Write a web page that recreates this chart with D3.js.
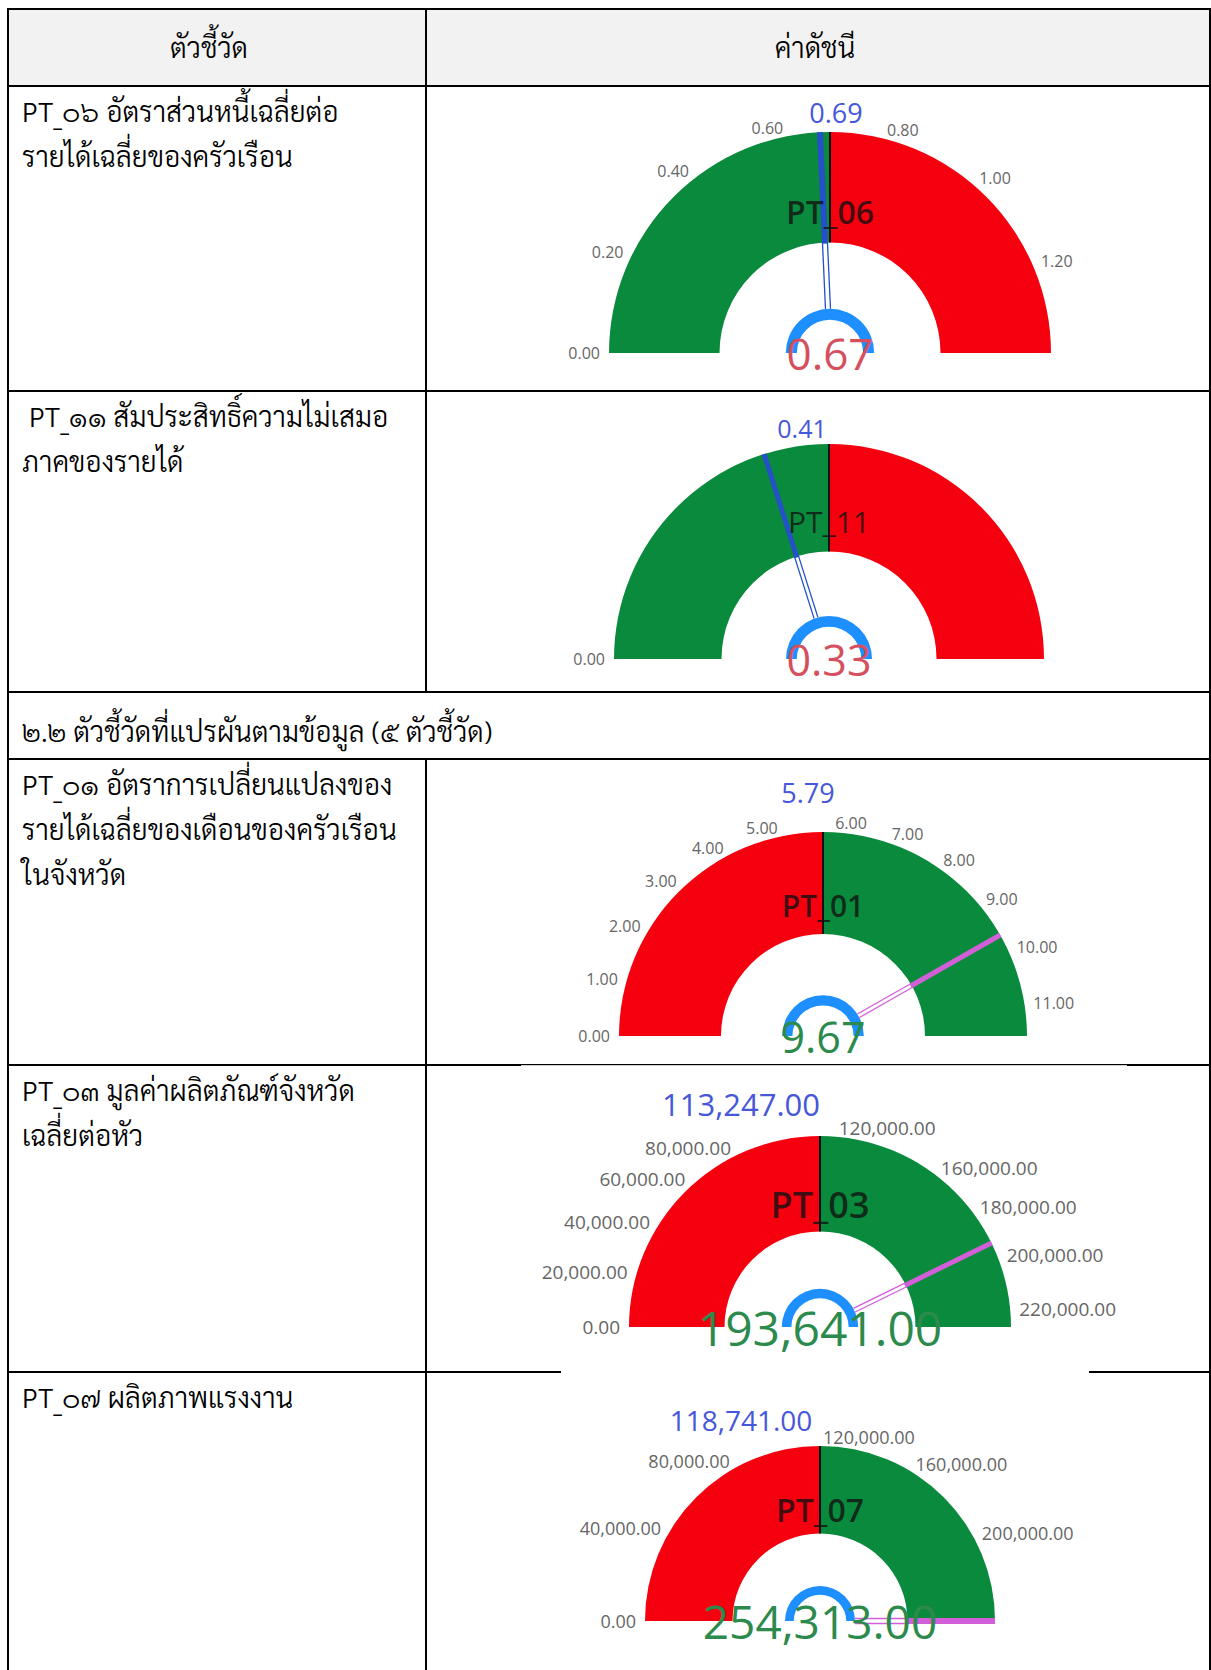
<!DOCTYPE html>
<html><head><meta charset="utf-8">
<script src="https://cdn.jsdelivr.net/npm/d3@7"></script>
<style>
html,body{margin:0;padding:0;background:#fff;}
svg{display:block;}
</style></head><body>
<svg id="chart" width="1211" height="1670"></svg>
<script>
// ---------------- data ----------------
const headerLabels = ["ตัวชี้วัด", "ค่าดัชนี"];
const sectionTitle = "๒.๒ ตัวชี้วัดที่แปรผันตามข้อมูล (๕ ตัวชี้วัด)";
const rowTexts = [
  ["PT_๐๖ อัตราส่วนหนี้เฉลี่ยต่อ", "รายได้เฉลี่ยของครัวเรือน"],
  ["\u00A0PT_๑๑ สัมประสิทธิ์ความไม่เสมอ", "ภาคของรายได้"],
  ["PT_๐๑ อัตราการเปลี่ยนแปลงของ", "รายได้เฉลี่ยของเดือนของครัวเรือน", "ในจังหวัด"],
  ["PT_๐๓ มูลค่าผลิตภัณฑ์จังหวัด", "เฉลี่ยต่อหัว"],
  ["PT_๐๗ ผลิตภาพแรงงาน"]
];
const gaugeIds = ["PT_06", "PT_11", "PT_01", "PT_03", "PT_07"];
const gaugeValues = [0.67, 0.33, 9.67, 193641, 254313];
const gaugeTargets = [0.69, 0.41, 5.79, 113247, 118741];
const lowerIsBetter = [true, true, false, false, false];
const tickLabelValues = [
  [0, 0.2, 0.4, 0.6, 0.8, 1.0, 1.2],
  [0],
  [0, 1, 2, 3, 4, 5, 6, 7, 8, 9, 10, 11],
  [0, 20000, 40000, 60000, 80000, 120000, 160000, 180000, 200000, 220000],
  [0, 40000, 80000, 120000, 160000, 200000]
];

// ---------------- layout ----------------
const W = 1211, H = 1670;
const colX = [8, 426, 1210];
const headerTop = 9, headerBottom = 86;
const rowTops = [86, 391, 759, 1065, 1372];
const rowBottoms = [391, 692, 1065, 1372, 1672];
const sectionTop = 692, sectionBottom = 759;
const gaugeLayout = [
  {cx: 830, cy: 353, R: 221, tick: 16, target: 27, value: 44, name: 32, nameW: 600, tdx: 6,   tdy: -20, nw: 5},
  {cx: 829, cy: 659, R: 215, tick: 16, target: 25, value: 43, name: 30, nameW: 400, tdx: -27, tdy: -16, nw: 4},
  {cx: 823, cy: 1036, R: 204, tick: 16, target: 27, value: 43, name: 30, nameW: 600, tdx: -15, tdy: -40, nw: 4},
  {cx: 820, cy: 1327, R: 191, tick: 19, target: 31, value: 48, name: 36, nameW: 600, tdx: -79, tdy: -32, nw: 4},
  {cx: 820, cy: 1621, R: 175, tick: 18, target: 28, value: 46, name: 32, nameW: 600, tdx: -79, tdy: -26, nw: 5}
];
const GREEN = "#0a8a3c", RED = "#f5000f", DIAL = "#1e8fff";
const TARGET_C = "#4657d9", TICK_C = "#666666";
const thaiFont = "'TH Sarabun New','Sarabun','Noto Sans Thai Looped','Noto Sans Thai','Noto Sans Thai UI','Loma','Garuda','Norasi','DejaVu Sans',sans-serif";
const gaugeFont = "'Segoe UI','Open Sans','Noto Sans',sans-serif";
const TXT = 28;
const fmt = d3.format(",.2f");

const svg = d3.select("#chart");

// header background
svg.append("rect").attr("x", colX[0]).attr("y", headerTop)
  .attr("width", colX[2] - colX[0]).attr("height", headerBottom - headerTop).attr("fill", "#f2f2f2");

// grid lines
const grid = svg.append("g").attr("stroke", "#000").attr("stroke-width", 2);
[headerTop, headerBottom, ...rowBottoms.slice(0, 4), sectionBottom].forEach(y => {
  grid.append("line").attr("x1", colX[0]).attr("x2", colX[2]).attr("y1", y).attr("y2", y);
});
grid.append("line").attr("x1", colX[0]).attr("x2", colX[0]).attr("y1", headerTop - 1).attr("y2", H);
grid.append("line").attr("x1", colX[2]).attr("x2", colX[2]).attr("y1", headerTop - 1).attr("y2", H);
grid.append("line").attr("x1", colX[1]).attr("x2", colX[1]).attr("y1", headerTop).attr("y2", sectionTop);
grid.append("line").attr("x1", colX[1]).attr("x2", colX[1]).attr("y1", sectionBottom).attr("y2", H);

// pasted gauge images cover parts of the borders
svg.append("rect").attr("x", 521).attr("y", 1065.2).attr("width", 606).attr("height", 300).attr("fill", "#fff");
svg.append("rect").attr("x", 561).attr("y", 1360).attr("width", 528).attr("height", 310).attr("fill", "#fff");

// header text
svg.append("g").selectAll("text").data(headerLabels).join("text")
  .attr("x", (d, i) => (colX[i] + colX[i + 1]) / 2 - (i === 0 ? 8 : 3))
  .attr("y", 58).attr("text-anchor", "middle")
  .attr("font-family", thaiFont).attr("font-size", TXT).attr("font-weight", 300)
  .attr("fill", "#000").text(d => d);

// section title
svg.append("text").attr("x", 22).attr("y", 742)
  .attr("font-family", thaiFont).attr("font-size", TXT).attr("font-weight", 300)
  .attr("fill", "#000").text(sectionTitle);

// row texts
rowTexts.forEach((lines, i) => {
  svg.append("g").selectAll("text").data(lines).join("text")
    .attr("x", 22).attr("y", (d, j) => rowTops[i] + 36 + j * 45)
    .attr("font-family", thaiFont).attr("font-size", TXT).attr("font-weight", 300)
    .attr("fill", "#000").attr("xml:space", "preserve").text(d => d);
});

// gauges
gaugeIds.forEach((id, i) => {
  const L = gaugeLayout[i];
  const t = gaugeTargets[i], v = gaugeValues[i];
  const sc = d3.scaleLinear().domain([0, 2 * t]).range([-Math.PI / 2, Math.PI / 2]).clamp(true);
  const g = svg.append("g").attr("transform", `translate(${L.cx},${L.cy})`);
  const R = L.R, r = L.R * 0.5;
  const arc = d3.arc().innerRadius(r).outerRadius(R);
  const bands = [
    {a: 0, b: t, c: lowerIsBetter[i] ? GREEN : RED},
    {a: t, b: 2 * t, c: lowerIsBetter[i] ? RED : GREEN}
  ];
  g.selectAll("path.band").data(bands).join("path").attr("class", "band")
    .attr("d", d => arc({startAngle: sc(d.a), endAngle: sc(d.b)}))
    .attr("fill", d => d.c);

  // needle
  const needleC = lowerIsBetter[i] ? "#2450c8" : "#d25ed8";
  const a = sc(v);
  const ux = Math.sin(a), uy = -Math.cos(a);
  const px = Math.cos(a), py = Math.sin(a);
  const P = (rho, off) => [rho * ux + off * px, rho * uy + off * py];
  const r0 = R * 0.2;
  g.append("line").attr("x1", P(r - 1, 0)[0]).attr("y1", P(r - 1, 0)[1])
    .attr("x2", P(R, 0)[0]).attr("y2", P(R, 0)[1])
    .attr("stroke", needleC).attr("stroke-width", L.nw + 1);
  [-L.nw / 2, L.nw / 2].forEach(off => {
    g.append("line").attr("x1", P(r0, off)[0]).attr("y1", P(r0, off)[1])
      .attr("x2", P(r, off)[0]).attr("y2", P(r, off)[1])
      .attr("stroke", needleC).attr("stroke-width", 1.3);
  });

  // target divider
  const ta = sc(t);
  g.append("line")
    .attr("x1", r * Math.sin(ta)).attr("y1", -r * Math.cos(ta))
    .attr("x2", R * Math.sin(ta)).attr("y2", -R * Math.cos(ta))
    .attr("stroke", "#111").attr("stroke-width", 2);

  // name label
  g.append("text").attr("x", 0).attr("y", -0.64 * R)
    .attr("text-anchor", "middle").attr("dominant-baseline", "central")
    .attr("font-family", gaugeFont).attr("font-size", L.name).attr("font-weight", L.nameW)
    .attr("fill", "#111").attr("fill-opacity", 0.78).text(id);

  // small dial arc
  g.append("path").attr("d", d3.arc().innerRadius(R * 0.15).outerRadius(R * 0.2)
      ({startAngle: -Math.PI / 2, endAngle: Math.PI / 2}))
    .attr("fill", DIAL);

  // value text
  g.append("text").attr("x", 0).attr("y", 0)
    .attr("text-anchor", "middle").attr("dominant-baseline", "central")
    .attr("font-family", gaugeFont).attr("font-size", L.value)
    .attr("fill", lowerIsBetter[i] ? "#d5505e" : "#2b8a4c").text(fmt(v));

  // tick labels
  g.append("g").selectAll("text").data(tickLabelValues[i]).join("text")
    .each(function (d) {
      const aa = sc(d), rho = R + 9;
      d3.select(this).attr("x", rho * Math.sin(aa)).attr("y", -rho * Math.cos(aa))
        .attr("text-anchor", aa < -0.005 ? "end" : (aa > 0.005 ? "start" : "middle"));
    })
    .attr("dominant-baseline", "central")
    .attr("font-family", gaugeFont).attr("font-size", L.tick).attr("fill", TICK_C)
    .text(d => fmt(d));

  // target label
  g.append("text").attr("x", L.tdx).attr("y", -R + L.tdy)
    .attr("text-anchor", "middle").attr("dominant-baseline", "central")
    .attr("font-family", gaugeFont).attr("font-size", L.target).attr("fill", TARGET_C)
    .text(fmt(t));
});
</script>
</body></html>
